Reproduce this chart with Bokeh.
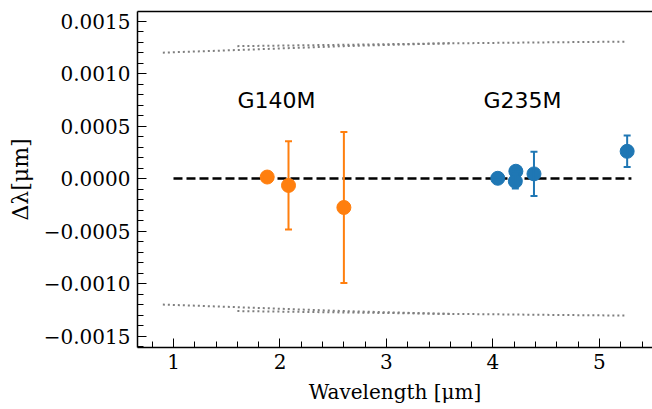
from bokeh.plotting import figure
from bokeh.models import (ColumnDataSource, Whisker, TeeHead, FixedTicker, LinearAxis,
                          CustomJSTickFormatter, Range1d)
from bokeh.core.properties import value
from bokeh.embed import file_html
from bokeh.resources import INLINE

# ---- data ----
g140_wave = [1.88, 2.08, 2.60]
g140_dl = [0.000015, -0.000065, -0.000275]
g140_err = [0.00001, 0.00042, 0.00072]

g235_wave = [4.045, 4.215, 4.21, 4.385, 5.26]
g235_dl = [0.000003, 0.00007, -0.000025, 0.000045, 0.00026]
g235_err = [0.00001, 0.00002, 0.00007, 0.00021, 0.00015]

# resolution envelopes (upper; lower is mirrored)
env140_wave = [0.90, 1.60, 2.60, 3.60]
env140_dl = [0.001200, 0.001225, 0.001262, 0.001290]
env235_wave = [1.60, 2.60, 3.55, 4.50, 5.25]
env235_dl = [0.001262, 0.001275, 0.001288, 0.001298, 0.001305]

zero_wave = [1.0, 5.3]
zero_dl = [0.0, 0.0]

label_text = ["G140M", "G235M"]
label_wave = [1.60, 3.91]
label_dl = [0.00074, 0.00074]

x_ticks = [1, 2, 3, 4, 5]
y_ticks = [-0.0015, -0.0010, -0.0005, 0.0, 0.0005, 0.0010, 0.0015]

ORANGE = "#ff7f0e"
BLUE = "#1f77b4"
SERIF = "DejaVu Serif"

p = figure(width=652, height=409, output_backend="svg", toolbar_location=None,
           x_range=Range1d(0.662, 5.498), y_range=Range1d(-0.001609, 0.001592),
           min_border_left=137, min_border_right=0, min_border_top=11, min_border_bottom=62)
p.grid.visible = False
p.outline_line_color = None
p.background_fill_color = "white"
p.border_fill_color = "white"

# envelopes
for xs, ys in [(env140_wave, env140_dl), (env235_wave, env235_dl)]:
    p.line(xs, ys, line_color="#7f7f7f", line_width=2, line_dash="2 3")
    p.line(xs, [-v for v in ys], line_color="#7f7f7f", line_width=2, line_dash="2 3")

# zero line
p.line(zero_wave, zero_dl, line_color="black", line_width=2.5, line_dash="9 4")

# error bars + points
for xs, ys, es, col in [(g140_wave, g140_dl, g140_err, ORANGE),
                        (g235_wave, g235_dl, g235_err, BLUE)]:
    src = ColumnDataSource(dict(x=xs, y=ys,
                                upper=[y + e for y, e in zip(ys, es)],
                                lower=[y - e for y, e in zip(ys, es)]))
    w = Whisker(source=src, base="x", upper="upper", lower="lower",
                line_color=col, line_width=2,
                upper_head=TeeHead(size=7, line_color=col, line_width=2),
                lower_head=TeeHead(size=7, line_color=col, line_width=2),
                level="glyph")
    p.add_layout(w)
    p.scatter("x", "y", source=src, size=14, fill_color=col, line_color=col)

p.text(x=label_wave, y=label_dl, text=label_text, text_font=value("DejaVu Sans"),
       text_font_size="22px", text_align="left", text_baseline="middle", text_color="black")

# axes styling
minor_x = [round(0.8 + 0.2 * i, 2) for i in range(25)]
minor_y = [round(-0.0016 + 0.0001 * i, 5) for i in range(33)]
p.xaxis.ticker = FixedTicker(ticks=x_ticks, minor_ticks=minor_x)
p.yaxis.ticker = FixedTicker(ticks=y_ticks, minor_ticks=minor_y)
p.yaxis.formatter = CustomJSTickFormatter(
    code="return (tick < -1e-12 ? '\u2212' : '') + Math.abs(tick).toFixed(4);")

p.xaxis.axis_label = "Wavelength [μm]"
p.yaxis.axis_label = "Δλ[μm]"
for ax in (p.xaxis, p.yaxis):
    ax.axis_line_color = "black"
    ax.axis_line_width = 1.5
    ax.major_tick_in = 9
    ax.major_tick_out = 0
    ax.minor_tick_in = 6
    ax.minor_tick_out = 0
    ax.major_tick_line_color = "black"
    ax.minor_tick_line_color = "black"
    ax.major_label_text_font = SERIF
    ax.major_label_text_font_size = "20px"
    ax.major_label_text_color = "black"
    ax.axis_label_text_font = SERIF
    ax.axis_label_text_font_style = "normal"
    ax.axis_label_text_color = "black"
p.xaxis.axis_label_text_font_size = "20px"
p.yaxis.axis_label_text_font_size = "22px"
p.xaxis.major_label_standoff = 6
p.xaxis.axis_label_standoff = 8
p.yaxis.major_label_standoff = 7
p.yaxis.axis_label_standoff = 8

top = LinearAxis(ticker=FixedTicker(ticks=[]), axis_line_color="black", axis_line_width=1.5,
                 major_tick_in=0, major_tick_out=0, minor_tick_in=0, minor_tick_out=0,
                 major_label_standoff=0, axis_label_standoff=0)
p.add_layout(top, "above")

open("out.html", "w").write(file_html(p, INLINE))
